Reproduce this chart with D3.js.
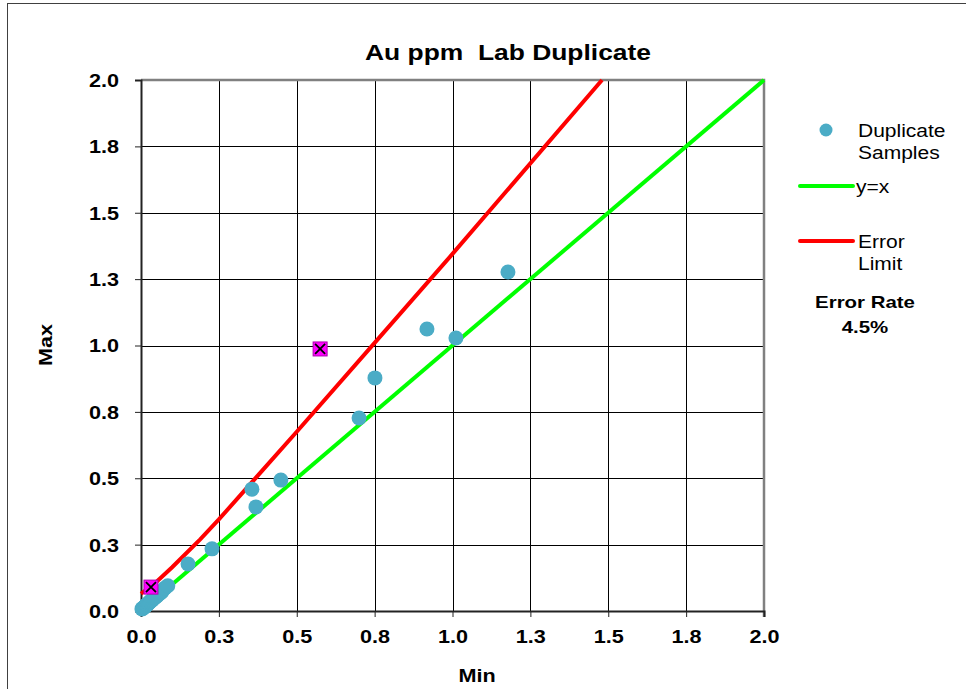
<!DOCTYPE html>
<html>
<head>
<meta charset="utf-8">
<script src="https://cdn.jsdelivr.net/npm/d3@7"></script>
<style>
  body { margin: 0; background: #fff; }
  svg { display: block; font-family: "Liberation Sans", Arial, sans-serif; }
</style>
</head>
<body>
<script>
// Duplicate samples (min, max)
var sampleMin = [0.003, 0.006, 0.008, 0.010, 0.012, 0.014, 0.016, 0.018, 0.020, 0.022,
                 0.024, 0.026, 0.028, 0.030, 0.033, 0.036, 0.040, 0.044, 0.048, 0.052,
                 0.056, 0.060, 0.064, 0.068, 0.077, 0.086, 0.151, 0.228, 0.356, 0.369,
                 0.449, 0.700, 0.751, 0.918, 1.011, 1.178];
var sampleMax = [0.008, 0.010, 0.012, 0.014, 0.016, 0.019, 0.021, 0.023, 0.025, 0.027,
                 0.029, 0.031, 0.034, 0.036, 0.039, 0.042, 0.046, 0.050, 0.054, 0.058,
                 0.062, 0.066, 0.070, 0.074, 0.087, 0.095, 0.177, 0.234, 0.459, 0.392,
                 0.493, 0.727, 0.878, 1.062, 1.028, 1.277];

// Samples failing the error limit
var failMin = [0.032, 0.575];
var failMax = [0.090, 0.987];

// y = x line
var equalX = [0, 2];
var equalY = [0, 2];

// Error limit line
var limitX = [0, 0.05, 0.10, 0.19, 0.25, 0.50, 0.75, 1.00, 1.48];
var limitY = [0.065, 0.11, 0.165, 0.27, 0.345, 0.675, 1.01, 1.345, 2.0];

var tickValues = [0, 0.25, 0.5, 0.75, 1.0, 1.25, 1.5, 1.75, 2.0];
var tickLabels = ["0.0", "0.3", "0.5", "0.8", "1.0", "1.3", "1.5", "1.8", "2.0"];

var errorRate = "4.5%";

var width = 966, height = 689;
var plot = { left: 141, top: 80, right: 764, bottom: 611 };

// text in the original is a bit wider than the font
var stretchX = 1.2;
function stretch(sel) {
    sel.each(function() {
        var w = this.getComputedTextLength();
        d3.select(this)
            .attr("textLength", w * stretchX)
            .attr("lengthAdjust", "spacingAndGlyphs");
    });
}

var svg = d3.select("body").append("svg")
    .attr("width", width)
    .attr("height", height);

// outer chart frame
svg.append("rect")
    .attr("x", 7.5).attr("y", 3.5)
    .attr("width", 1000).attr("height", 800)
    .attr("fill", "none")
    .attr("stroke", "#404040")
    .attr("stroke-width", 1);

var x = d3.scaleLinear().domain([0, 2]).range([plot.left, plot.right]);
var y = d3.scaleLinear().domain([0, 2]).range([plot.bottom, plot.top]);

// gridlines
var grid = svg.append("g").attr("class", "grid");
grid.selectAll(".vg")
    .data(tickValues.slice(1, -1))
    .enter().append("line")
    .attr("x1", function(d) { return Math.round(x(d)) + 0.5; })
    .attr("x2", function(d) { return Math.round(x(d)) + 0.5; })
    .attr("y1", plot.top).attr("y2", plot.bottom)
    .attr("stroke", "#000").attr("stroke-width", 1);
grid.selectAll(".hg")
    .data(tickValues.slice(1, -1))
    .enter().append("line")
    .attr("y1", function(d) { return Math.round(y(d)) + 0.5; })
    .attr("y2", function(d) { return Math.round(y(d)) + 0.5; })
    .attr("x1", plot.left).attr("x2", plot.right)
    .attr("stroke", "#000").attr("stroke-width", 1);

// top and right border (gray)
svg.append("path")
    .attr("d", "M" + plot.left + "," + plot.top + "H" + plot.right + "V" + (plot.bottom + 6))
    .attr("fill", "none")
    .attr("stroke", "#808080")
    .attr("stroke-width", 2.5);

// axes
var xAxis = d3.axisBottom(x)
    .tickValues(tickValues)
    .tickFormat(function(d, i) { return tickLabels[i]; })
    .tickSize(6)
    .tickPadding(13);
var yAxis = d3.axisLeft(y)
    .tickValues(tickValues)
    .tickFormat(function(d, i) { return tickLabels[i]; })
    .tickSize(6)
    .tickPadding(16);

var gx = svg.append("g")
    .attr("transform", "translate(0," + plot.bottom + ")")
    .call(xAxis);
var gy = svg.append("g")
    .attr("transform", "translate(" + plot.left + ",0)")
    .call(yAxis);

[gx, gy].forEach(function(g) {
    g.select(".domain").attr("stroke", "#222").attr("stroke-width", 2);
    g.selectAll(".tick line").attr("stroke", "#222").attr("stroke-width", 1);
    g.selectAll(".tick text")
        .attr("font-size", 18)
        .attr("font-weight", "bold")
        .attr("fill", "#000")
        .attr("font-family", "Liberation Sans, Arial, sans-serif")
        .call(stretch);
});
gy.selectAll(".tick text").attr("dy", "0.36em");

// lines
var line = d3.line()
    .x(function(d) { return x(d[0]); })
    .y(function(d) { return y(d[1]); });

svg.append("path")
    .datum(equalX.map(function(v, i) { return [v, equalY[i]]; }))
    .attr("d", line)
    .attr("fill", "none")
    .attr("stroke", "#00FF00")
    .attr("stroke-width", 4);

svg.append("path")
    .datum(limitX.map(function(v, i) { return [v, limitY[i]]; }))
    .attr("d", line)
    .attr("fill", "none")
    .attr("stroke", "#FF0000")
    .attr("stroke-width", 4);

// duplicate samples
svg.append("g").selectAll("circle")
    .data(sampleMin.map(function(v, i) { return [v, sampleMax[i]]; }))
    .enter().append("circle")
    .attr("cx", function(d) { return x(d[0]); })
    .attr("cy", function(d) { return y(d[1]); })
    .attr("r", 7.5)
    .attr("fill", "#4BACC6");

// failing samples
var fails = svg.append("g").selectAll("g")
    .data(failMin.map(function(v, i) { return [v, failMax[i]]; }))
    .enter().append("g")
    .attr("transform", function(d) { return "translate(" + x(d[0]) + "," + y(d[1]) + ")"; });
fails.append("rect")
    .attr("x", -7).attr("y", -7)
    .attr("width", 14).attr("height", 14)
    .attr("fill", "#FF00FF")
    .attr("stroke", "#B000B0")
    .attr("stroke-width", 1);
fails.append("path")
    .attr("d", "M-5,-5L5,5M5,-5L-5,5")
    .attr("stroke", "#000")
    .attr("stroke-width", 1.8);

// title and axis titles
svg.append("text")
    .attr("x", 508).attr("y", 60)
    .attr("text-anchor", "middle")
    .attr("font-size", 22)
    .attr("font-weight", "bold")
    .attr("xml:space", "preserve")
    .style("white-space", "pre")
    .text("Au ppm  Lab Duplicate")
    .call(stretch);

svg.append("text")
    .attr("x", 477).attr("y", 682)
    .attr("text-anchor", "middle")
    .attr("font-size", 18)
    .attr("font-weight", "bold")
    .text("Min")
    .call(stretch);

svg.append("text")
    .attr("transform", "translate(52,345) rotate(-90)")
    .attr("text-anchor", "middle")
    .attr("font-size", 18)
    .attr("font-weight", "bold")
    .text("Max")
    .call(stretch);

// legend
var legend = svg.append("g").attr("font-size", 17.5);
legend.append("circle")
    .attr("cx", 826).attr("cy", 130).attr("r", 6.5)
    .attr("fill", "#4BACC6");
legend.append("text").attr("x", 858).attr("y", 137).text("Duplicate");
legend.append("text").attr("x", 858).attr("y", 159).text("Samples");

legend.append("line")
    .attr("x1", 800).attr("x2", 853).attr("y1", 186).attr("y2", 186)
    .attr("stroke", "#00FF00").attr("stroke-width", 4).attr("stroke-linecap", "round");
legend.append("text").attr("x", 856).attr("y", 193).text("y=x");

legend.append("line")
    .attr("x1", 800).attr("x2", 853).attr("y1", 241).attr("y2", 241)
    .attr("stroke", "#FF0000").attr("stroke-width", 4).attr("stroke-linecap", "round");
legend.append("text").attr("x", 858).attr("y", 248).text("Error");
legend.append("text").attr("x", 858).attr("y", 270).text("Limit");

legend.append("text")
    .attr("x", 865).attr("y", 308)
    .attr("text-anchor", "middle")
    .attr("font-size", 17)
    .attr("font-weight", "bold")
    .text("Error Rate");
legend.append("text")
    .attr("x", 865).attr("y", 333)
    .attr("text-anchor", "middle")
    .attr("font-size", 17)
    .attr("font-weight", "bold")
    .text(errorRate);

legend.selectAll("text").call(stretch);
</script>
</body>
</html>
